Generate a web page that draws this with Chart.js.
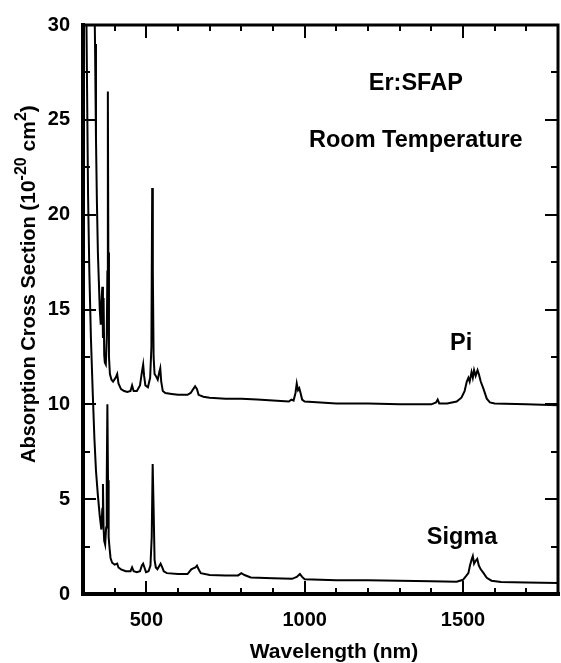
<!DOCTYPE html>
<html>
<head>
<meta charset="utf-8">
<script src="https://cdn.jsdelivr.net/npm/chart.js@4.4.1/dist/chart.umd.min.js"></script>
<style>
  html, body { margin: 0; padding: 0; background: #ffffff; }
  #wrap { width: 561px; height: 663px; position: relative; }
</style>
</head>
<body>
<div id="wrap"><canvas id="c" width="561" height="663"></canvas></div>
<script>
// ---- Data ----
const piWavelength = [300, 330, 335, 338, 341, 344, 347, 350, 353, 356, 359, 361, 363, 365, 367, 369, 372, 375, 377, 378.5, 380, 382, 385, 390, 395, 403, 408, 412, 420, 430, 440, 450, 455, 460, 470, 480, 486, 490, 493, 497, 505, 512, 516, 518.5, 520.5, 523, 526, 530, 536, 541, 544, 547, 552, 560, 580, 600, 630, 640, 648, 654, 660, 665, 680, 700, 750, 800, 850, 900, 950, 958, 965, 971, 975, 979, 983, 987, 992, 1000, 1050, 1100, 1200, 1300, 1400, 1415, 1420, 1425, 1450, 1480, 1495, 1505, 1512, 1517, 1521, 1527, 1531, 1535, 1540, 1546, 1550, 1556, 1565, 1575, 1585, 1600, 1700, 1800];
const piCrossSection = [60, 40, 33, 29, 24, 20.6, 18, 16.5, 15, 14.2, 15.6, 16.2, 13.5, 15.6, 12.6, 12.2, 12.1, 13.5, 17, 26.5, 18, 12.5, 11.6, 11.3, 11.2, 11.4, 11.6, 11.1, 10.8, 10.7, 10.65, 10.7, 11.0, 10.7, 10.7, 11.0, 11.7, 12.1, 11.5, 11.0, 10.9, 11.4, 13, 21.4, 17, 12.5, 11.6, 11.5, 11.3, 11.7, 11.9, 11.2, 10.7, 10.6, 10.55, 10.5, 10.5, 10.6, 10.8, 10.95, 10.8, 10.5, 10.4, 10.35, 10.3, 10.3, 10.25, 10.2, 10.15, 10.25, 10.2, 10.6, 11.1, 10.75, 10.85, 10.6, 10.25, 10.15, 10.1, 10.05, 10.05, 10.0, 10.0, 10.1, 10.25, 10.05, 10.05, 10.15, 10.35, 10.7, 11.2, 11.4, 11.2, 11.7, 11.4, 11.8, 11.5, 11.8, 11.6, 11.2, 10.8, 10.3, 10.1, 10.05, 10.0, 9.95];

const sigmaWavelength = [300, 305, 311, 316, 320, 325, 331, 336, 341, 347, 353, 358, 361, 363, 365, 367, 370, 373, 375, 377, 379, 381, 384, 387, 392, 400, 408, 412, 420, 435, 450, 455, 460, 470, 480, 486, 490, 494, 499, 507, 513, 517, 520, 523, 526, 530, 535, 540, 545, 549, 555, 565, 600, 630, 642, 648, 655, 660, 665, 672, 700, 750, 790, 800, 810, 830, 900, 960, 975, 985, 992, 1000, 1100, 1200, 1300, 1400, 1480, 1500, 1510, 1517, 1522, 1527, 1531, 1535, 1540, 1545, 1550, 1556, 1565, 1575, 1590, 1620, 1700, 1800];
const sigmaCrossSection = [60, 40, 30, 21, 17, 13.5, 10.5, 8.2, 6.5, 5.2, 4.1, 3.4, 4.5, 5.8, 3.5, 2.8, 2.6, 3.5, 6, 10, 6, 3.0, 2.4, 1.9, 1.65, 1.55, 1.6, 1.4, 1.3, 1.2, 1.2, 1.4, 1.2, 1.15, 1.2, 1.5, 1.6, 1.4, 1.15, 1.2, 1.5, 3, 6.85, 4.5, 1.8, 1.4, 1.3, 1.45, 1.6, 1.45, 1.2, 1.1, 1.05, 1.05, 1.3, 1.35, 1.4, 1.5, 1.3, 1.1, 1.0, 0.98, 0.98, 1.1, 1.0, 0.87, 0.83, 0.8, 0.9, 1.05, 0.9, 0.78, 0.73, 0.72, 0.7, 0.67, 0.65, 0.75, 0.95, 1.1, 1.5, 1.8, 2.0, 1.6, 1.75, 1.85, 1.5, 1.3, 1.1, 0.85, 0.7, 0.63, 0.6, 0.58];

const xTickLabels = [500, 1000, 1500];
const yTickLabels = [0, 5, 10, 15, 20, 25, 30];
const xMinorStep = 100;
const yMinorStep = 2.5;

const seriesNames = ['Pi', 'Sigma'];
const annotationLines = ['Er:SFAP', 'Room Temperature'];

// ---- helpers ----
function toPoints(xs, ys) { return xs.map((x, i) => ({ x: x, y: ys[i] })); }

const FONT = "'Liberation Sans', Arial, Helvetica, sans-serif";

const framePlugin = {
  id: 'frameAndLabels',
  afterDraw(chart) {
    const ctx = chart.ctx;
    const a = chart.chartArea;
    const xs = chart.scales.x, ys = chart.scales.y;
    ctx.save();
    ctx.strokeStyle = '#000';
    ctx.lineCap = 'butt';
    // frame
    ctx.lineWidth = 4;
    ctx.beginPath();
    ctx.moveTo(a.left, a.top - 2); ctx.lineTo(a.left, a.bottom + 2);
    ctx.moveTo(a.left - 2, a.bottom); ctx.lineTo(a.right + 2, a.bottom);
    ctx.stroke();
    ctx.lineWidth = 3;
    ctx.beginPath();
    ctx.moveTo(a.left - 2, a.top); ctx.lineTo(a.right + 1.5, a.top);
    ctx.moveTo(a.right, a.top); ctx.lineTo(a.right, a.bottom + 2);
    ctx.stroke();
    // ticks (inward)
    ctx.lineWidth = 2;
    ctx.beginPath();
    for (let v = xs.min + xMinorStep; v < xs.max; v += xMinorStep) {
      const px = Math.round(xs.getPixelForValue(v));
      const major = xTickLabels.includes(v);
      const len = major ? 13 : 6;
      ctx.moveTo(px, a.bottom); ctx.lineTo(px, a.bottom - len);
      ctx.moveTo(px, a.top); ctx.lineTo(px, a.top + len);
    }
    for (let v = ys.min + yMinorStep; v < ys.max; v += yMinorStep) {
      const py = Math.round(ys.getPixelForValue(v));
      const major = yTickLabels.includes(v);
      const len = major ? 13 : 7;
      ctx.moveTo(a.left, py); ctx.lineTo(a.left + len, py);
      ctx.moveTo(a.right, py); ctx.lineTo(a.right - len, py);
    }
    ctx.stroke();

    // annotations placed in data space
    ctx.fillStyle = '#000';
    ctx.textAlign = 'center';
    ctx.textBaseline = 'middle';
    ctx.font = 'bold 23.5px ' + FONT;
    ctx.fillText(annotationLines[0], xs.getPixelForValue(1351), ys.getPixelForValue(26.9));
    ctx.fillText(annotationLines[1], xs.getPixelForValue(1351), ys.getPixelForValue(23.9));
    ctx.fillText(seriesNames[0], xs.getPixelForValue(1494), ys.getPixelForValue(13.2));
    ctx.fillText(seriesNames[1], xs.getPixelForValue(1497), ys.getPixelForValue(3.0));

    // x axis title
    ctx.font = 'bold 21px ' + FONT;
    ctx.fillText('Wavelength (nm)', 334, 652);

    // y axis title with superscripts, starting at the bottom and reading upward
    ctx.translate(28, 463);
    ctx.rotate(-Math.PI / 2);
    const parts = [
      { t: 'Absorption Cross Section ', f: 'bold 20px ', dy: 7 },
      { t: '(10', f: 'bold 21px ', dy: 7 },
      { t: '-20', f: 'bold 16px ', dy: -2 },
      { t: ' cm', f: 'bold 21px ', dy: 7 },
      { t: '2', f: 'bold 16px ', dy: -2 },
      { t: ')', f: 'bold 21px ', dy: 7 }
    ];
    let cx = 0;
    ctx.textAlign = 'left';
    ctx.textBaseline = 'alphabetic';
    parts.forEach(p => {
      ctx.font = p.f + FONT;
      ctx.fillText(p.t, cx, p.dy);
      cx += ctx.measureText(p.t).width;
    });
    ctx.restore();
  }
};

new Chart(document.getElementById('c'), {
  type: 'scatter',
  data: {
    datasets: [
      {
        label: seriesNames[0],
        data: toPoints(piWavelength, piCrossSection),
        showLine: true, borderColor: '#000', borderWidth: 2,
        pointRadius: 0, tension: 0, fill: false
      },
      {
        label: seriesNames[1],
        data: toPoints(sigmaWavelength, sigmaCrossSection),
        showLine: true, borderColor: '#000', borderWidth: 2,
        pointRadius: 0, tension: 0, fill: false
      }
    ]
  },
  options: {
    responsive: false,
    animation: false,
    devicePixelRatio: 1,
    layout: { padding: { top: 21, right: 3, left: 0, bottom: 0 } },
    plugins: { legend: { display: false }, tooltip: { enabled: false } },
    scales: {
      x: {
        type: 'linear', min: 300, max: 1800,
        grid: { display: false, drawTicks: false },
        border: { display: false },
        afterFit(s) { s.height = 69; },
        afterBuildTicks(s) { s.ticks = xTickLabels.map(v => ({ value: v })); },
        ticks: {
          color: '#000', padding: 14, maxRotation: 0, autoSkip: false,
          callback: (v) => String(v),
          font: { family: FONT, size: 20, weight: 'bold' }
        },
        title: { display: false, text: 'Wavelength (nm)' }
      },
      y: {
        type: 'linear', min: 0, max: 30,
        grid: { display: false, drawTicks: false },
        border: { display: false },
        afterFit(s) { s.width = 83; },
        afterBuildTicks(s) { s.ticks = yTickLabels.map(v => ({ value: v })); },
        ticks: {
          color: '#000', padding: 13,
          callback: (v) => String(v),
          font: { family: FONT, size: 20, weight: 'bold' }
        },
        title: { display: false, text: 'Absorption Cross Section (10-20 cm2)' }
      }
    }
  },
  plugins: [framePlugin]
});
</script>
</body>
</html>
